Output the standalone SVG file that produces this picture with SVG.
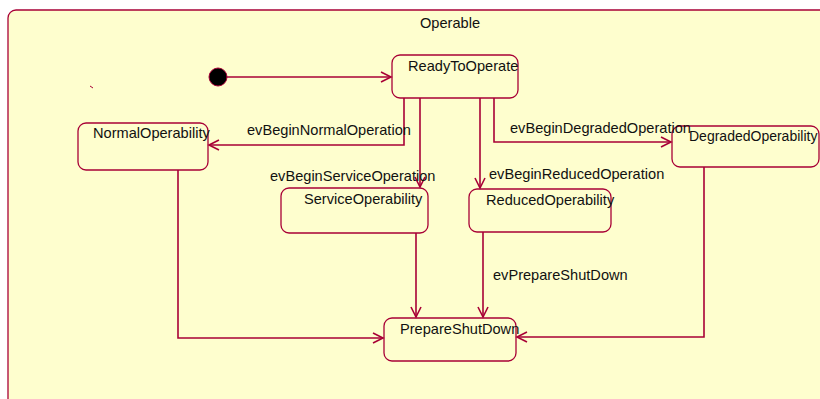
<svg xmlns="http://www.w3.org/2000/svg" width="820" height="399" viewBox="0 0 820 399">
  <defs>
    <style>
      .state { fill: #FEFECE; stroke: #A80036; stroke-width: 1.3; }
      .label { font-family: "Liberation Sans", Arial, sans-serif; font-size: 14.6px; fill: #111; }
      .edge { fill: none; stroke: #A80036; stroke-width: 1.6; }
    </style>
    <marker id="open" markerUnits="userSpaceOnUse" markerWidth="12" markerHeight="12" refX="10" refY="5" orient="auto" overflow="visible">
      <path d="M0,0 L10,5 L0,10" fill="none" stroke="#A80036" stroke-width="1.6"/>
    </marker>
  </defs>

  <rect x="0" y="0" width="820" height="399" fill="#FFFFFF"/>

  <!-- composite state -->
  <g id="Operable">
    <rect class="state" x="8" y="10" width="830" height="410" rx="8" ry="8"/>
    <text class="label" x="420" y="28">Operable</text>
    <line x1="90" y1="86" x2="93" y2="88" stroke="#A80036" stroke-width="1"/>
  </g>

  <g id="initial">
    <circle cx="218" cy="77" r="9" fill="#000" stroke="#A80036" stroke-width="1"/>
  </g>

  <g id="ReadyToOperate">
    <rect class="state" x="392" y="55" width="126" height="43" rx="8" ry="8"/>
    <text class="label" x="408" y="71">ReadyToOperate</text>
  </g>

  <g id="NormalOperability">
    <rect class="state" x="78" y="123" width="130" height="47" rx="8" ry="8"/>
    <text class="label" x="93" y="138">NormalOperability</text>
  </g>

  <g id="ServiceOperability">
    <rect class="state" x="281" y="188" width="147" height="45" rx="8" ry="8"/>
    <text class="label" x="304" y="204">ServiceOperability</text>
  </g>

  <g id="ReducedOperability">
    <rect class="state" x="469" y="189" width="142" height="43" rx="8" ry="8"/>
    <text class="label" x="486" y="205">ReducedOperability</text>
  </g>

  <g id="DegradedOperability">
    <rect class="state" x="672" y="126" width="147" height="41" rx="8" ry="8"/>
    <text class="label" x="689" y="141" style="font-size:14px">DegradedOperability</text>
  </g>

  <g id="PrepareShutDown">
    <rect class="state" x="384" y="318" width="132" height="43" rx="8" ry="8"/>
    <text class="label" x="400" y="334">PrepareShutDown</text>
  </g>

  <!-- transitions -->
  <g id="connectors">
    <path class="edge" d="M227,77 L391,77" marker-end="url(#open)"/>
    <path class="edge" d="M404,98 L404,145 L209,145" marker-end="url(#open)"/>
    <path class="edge" d="M420,98 L420,187" marker-end="url(#open)"/>
    <path class="edge" d="M480,98 L480,188" marker-end="url(#open)"/>
    <path class="edge" d="M494,98 L494,142 L671,142" marker-end="url(#open)"/>
    <path class="edge" d="M416,233 L416,317" marker-end="url(#open)"/>
    <path class="edge" d="M483,232 L483,317" marker-end="url(#open)"/>
    <path class="edge" d="M178,170 L178,338 L383,338" marker-end="url(#open)"/>
    <path class="edge" d="M704,167 L704,337 L517,337" marker-end="url(#open)"/>

    <text class="label" x="247" y="135">evBeginNormalOperation</text>
    <text class="label" x="270" y="181">evBeginServiceOperation</text>
    <text class="label" x="489" y="179">evBeginReducedOperation</text>
    <text class="label" x="510" y="133">evBeginDegradedOperation</text>
    <text class="label" x="493" y="280">evPrepareShutDown</text>
  </g>
</svg>
